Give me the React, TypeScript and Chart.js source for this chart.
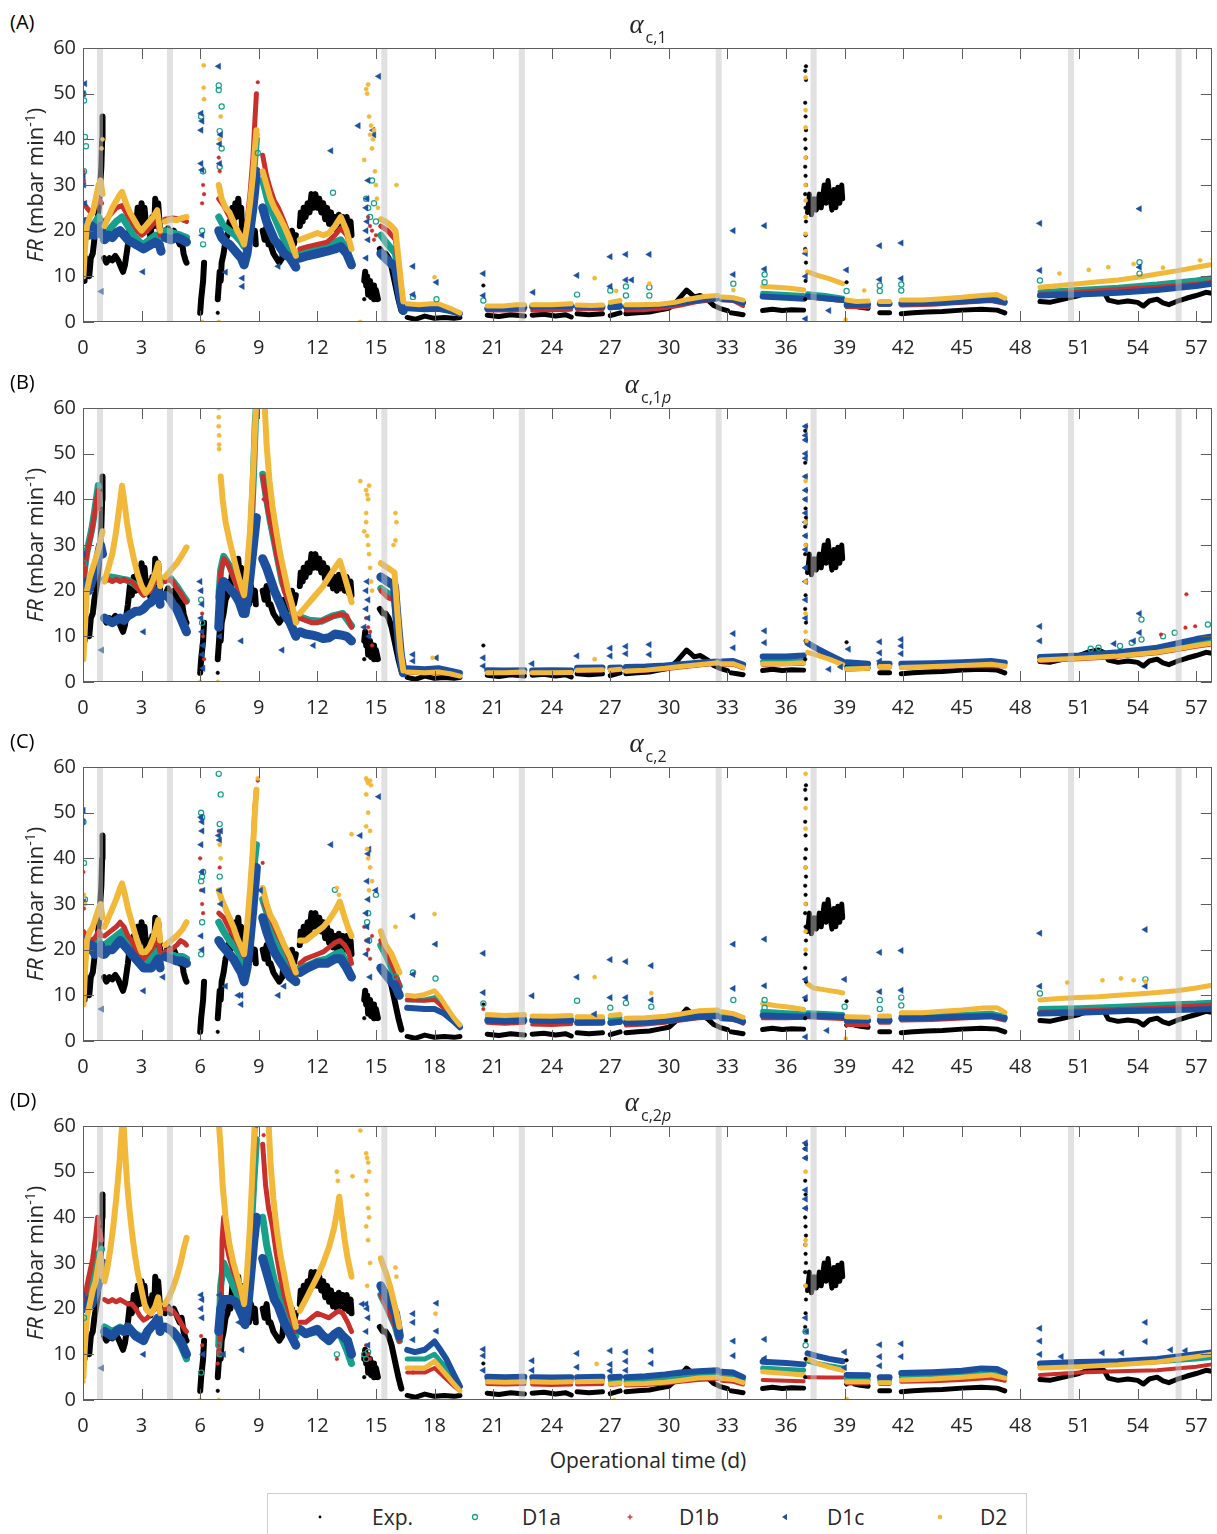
import React, { useEffect, useRef } from "react";
import { Chart, registerables } from "chart.js";
Chart.register(...registerables);

type P = [number, number] | null;

// ---------------- axis / event data ----------------
const xTickLabels = [0, 3, 6, 9, 12, 15, 18, 21, 24, 27, 30, 33, 36, 39, 42, 45, 48, 51, 54, 57];
const yTickLabels = [0, 10, 20, 30, 40, 50, 60];
const bandDays = [0.87, 4.45, 15.43, 22.47, 32.55, 37.41, 50.59, 56.1];
const seriesNames = ["Exp.", "D1a", "D1b", "D1c", "D2"];
const panelLetters = ["(A)", "(B)", "(C)", "(D)"];
const panelSubs = ["c,1", "c,1", "c,2", "c,2"];
const panelSubItalic = ["", "p", "", "p"];

// ---------------- experimental data (same in every panel) ----------------
const expLine: P[] = [
  [0.03, 12], [0.08, 9], [0.13, 14], [0.18, 10], [0.25, 12], [0.32, 10], [0.4, 14], [0.5, 15], [0.58, 18], [0.66, 20], [0.74, 22], [0.82, 26], [0.88, 30], [0.94, 34], [0.98, 40], [1.0, 45], null,
  [1.08, 14], [1.2, 13], [1.35, 14], [1.5, 13.5], [1.65, 14.5], [1.8, 13.5], [1.95, 12], [2.05, 11], [2.15, 12.5], [2.3, 17], [2.4, 21], [2.5, 19], [2.6, 23], [2.7, 20], [2.8, 25], [2.9, 21], [3.0, 26], [3.1, 22], [3.15, 25], [3.25, 20], [3.35, 22], [3.45, 18.5], [3.55, 23], [3.65, 21], [3.7, 27], [3.8, 23], [3.85, 26], [3.95, 20], null,
  [4.2, 19], [4.35, 20.5], [4.5, 19], [4.65, 20], [4.8, 18.5], [4.95, 17], [5.05, 18], [5.15, 15], [5.25, 13.5], [5.3, 13], null,
  [6.0, 2], [6.05, 5], [6.1, 7], [6.15, 9], [6.2, 13], null,
  [6.9, 5], [6.95, 8], [7.0, 11], [7.05, 9], [7.1, 13], [7.2, 15], [7.3, 18], [7.4, 19], [7.5, 22], [7.55, 20], [7.65, 25], [7.7, 22], [7.8, 26], [7.85, 23], [7.95, 27], [8.0, 24], [8.1, 25], [8.15, 20], [8.2, 22], [8.3, 18], [8.4, 20], [8.5, 17], [8.6, 21], [8.7, 18], [8.8, 20], [8.85, 17], null,
  [9.2, 20], [9.3, 18], [9.4, 21], [9.5, 17], [9.6, 17], [9.75, 15], [9.9, 14], [10.05, 13], [10.2, 14], [10.3, 18], [10.4, 15], [10.5, 19], [10.6, 16], [10.7, 20], [10.8, 17], [10.9, 19], null,
  [11.1, 21], [11.15, 24], [11.25, 22], [11.3, 25], [11.4, 23], [11.5, 26], [11.6, 24], [11.7, 28], [11.8, 25], [11.9, 28], [12.0, 25], [12.1, 27], [12.2, 24], [12.3, 26], [12.4, 22.5], [12.5, 25], [12.6, 21.5], [12.7, 24], [12.8, 20.5], [12.9, 23], [13.0, 20], [13.1, 23.5], [13.2, 20.5], [13.3, 23], [13.4, 20], [13.5, 23], [13.6, 19.5], [13.7, 22], [13.75, 19], null,
  [14.4, 9], [14.45, 11], [14.5, 8], [14.55, 10], [14.6, 6], [14.7, 9], [14.75, 5.5], [14.85, 8], [14.9, 5], [15.0, 7], [15.1, 5], null,
  [15.2, 16], [15.35, 15], [15.5, 15], [15.65, 14], [15.8, 12], [15.95, 9], [16.05, 7], [16.15, 5], [16.3, 2.5], null,
  [16.6, 1], [17.0, 0.6], [17.5, 1.3], [18.0, 0.8], [18.5, 1], [19.0, 0.8], [19.3, 1], null,
  [20.7, 1.5], [21.3, 1.2], [21.9, 1.6], [22.6, 1.3], null,
  [23.0, 1.5], [23.6, 1.7], [24.2, 1.3], [24.7, 1.6], [25.0, 1.1], null,
  [25.3, 1.8], [25.9, 1.6], [26.6, 1.8], null,
  [27.0, 1.4], [27.5, 2], null,
  [27.8, 1.8], [28.4, 2], [29.0, 2.2], [29.5, 2.6], [30.0, 3], [30.4, 4.5], [30.7, 6], [30.9, 7], [31.1, 6.3], [31.3, 5.5], [31.6, 5.8], [32.0, 4.8], [32.3, 3.6], [32.6, 3], [33.0, 2.5], null,
  [33.2, 2], [33.5, 1.8], [33.8, 1.6], null,
  [34.8, 2.5], [35.3, 2.8], [35.8, 2.5], [36.3, 2.7], [36.9, 2.6], null,
  [37.1, 24], [37.2, 28], [37.3, 23.5], [37.45, 27], [37.55, 24.5], [37.7, 28], [37.8, 25], [37.95, 30], [38.05, 26], [38.15, 31], [38.25, 27], [38.35, 24.5], [38.45, 29], [38.55, 25], [38.65, 29.5], [38.75, 26], [38.85, 30], [38.9, 27], null,
  [39.1, 3.5], [39.3, 4.3], [39.5, 3.5], [39.8, 3.2], [40.2, 3], null,
  [40.8, 2], [41.3, 2], null,
  [41.9, 1.8], [42.5, 2], [43.2, 2.2], [44.0, 2.3], [45.0, 2.6], [46.0, 2.8], [46.8, 2.6], [47.2, 2], null,
  [49.0, 4.5], [49.5, 4.3], [50.0, 4.8], [50.5, 5.3], [51.0, 5.8], [51.5, 6.6], [52.0, 7], [52.3, 6.4], [52.5, 4.8], [53.0, 4.3], [53.5, 4.6], [54.0, 4.3], [54.3, 3.5], [54.6, 4.6], [55.0, 5], [55.3, 4.2], [55.6, 3.8], [56.0, 4.5], [56.5, 5.2], [57.0, 5.8], [57.5, 6.5], [57.8, 6.3],
];
const expOut: P[] = [
  [36.98, 5], [37.0, 9], [37.02, 13], [36.98, 16], [37.0, 19], [37.02, 22], [37.0, 25], [36.98, 28], [37.02, 30], [37.0, 32], [36.98, 34], [37.02, 36], [37.0, 38], [36.98, 40], [37.02, 42], [37.0, 45], [36.98, 48], [37.02, 53], [36.98, 55], [37.02, 56],
  [20.5, 8], [39.1, 8.7], [6.9, 2], [14.4, 5], [1.0, 42], [0.98, 38],
];

// ---------------- panel A : alpha c,1 ----------------
const A_d1a: P[] = [
  [0.02, 22], [0.2, 21], [0.5, 21], [0.8, 23], [0.95, 22], null,
  [1.1, 19], [1.4, 20.5], [1.7, 22], [2.0, 23], [2.3, 21], [2.6, 19], [2.9, 17.5], [3.1, 17], [3.4, 18], [3.7, 19], [3.95, 17], null,
  [4.2, 20], [4.6, 19.5], [5.0, 19], [5.3, 18.5], null,
  [6.95, 23], [7.2, 21], [7.5, 20], [7.8, 19], [8.1, 17.5], [8.25, 16.5], [8.4, 19], [8.55, 24], [8.7, 30], [8.8, 36], [8.88, 40], null,
  [9.2, 31], [9.5, 26], [9.8, 23], [10.1, 20], [10.4, 17], [10.7, 15], [10.9, 13], null,
  [11.1, 15], [11.5, 15.5], [12.0, 16], [12.5, 16.5], [12.9, 17.5], [13.2, 18], [13.5, 16], [13.75, 13], null,
  [15.25, 19], [15.6, 17], [16.0, 15], [16.15, 10], [16.3, 5], [16.4, 3], null,
  [16.6, 3.5], [17.5, 3.3], [18.2, 3.4], [18.8, 2.6], [19.3, 2], null,
  [20.7, 3], [21.6, 3], [22.6, 3.1], null,
  [23.0, 3.1], [24.0, 3.2], [25.0, 3.3], null,
  [25.3, 3.2], [26.6, 3.2], null,
  [27.0, 3.6], [27.5, 3.8], null,
  [27.8, 3.2], [28.8, 3.3], [29.8, 3.6], [30.6, 4.1], [31.5, 4.8], [32.5, 5.3], null,
  [32.7, 5], [33.3, 5], [33.8, 4.2], null,
  [34.8, 6.3], [36.0, 6], [36.9, 5.8], null,
  [37.1, 6.2], [38.0, 5.8], [38.9, 5.2], null,
  [39.1, 4], [40.2, 3.9], null,
  [40.8, 4.2], [41.3, 4.2], null,
  [41.9, 4.3], [43.5, 4.5], [45.0, 4.8], [46.5, 5.2], [47.2, 4.6], null,
  [49.0, 6.6], [51.0, 7.1], [53.0, 7.6], [55.0, 8.3], [57.0, 9.2], [57.8, 9.7],
];
const A_d1aOut: P[] = [
  [0.02, 50], [0.05, 48.5], [0.1, 40.5], [0.15, 38.5], [0.05, 33], [6.05, 45], [6.15, 33], [6.1, 20], [6.15, 17], [6.95, 51.8], [6.95, 50.8], [7.1, 47.2], [7.0, 41.8], [7.1, 38], [7.0, 34],
  [14.5, 27], [14.6, 25], [14.7, 23], [14.8, 31], [12.8, 28.3], [14.9, 26], [15.0, 22], [8.95, 37], [16.9, 5.5], [18.1, 5], [20.5, 4.7], [25.3, 6], [27.0, 6.9], [27.8, 7.8], [27.8, 5.8],
  [29.0, 7.6], [29.0, 5.8], [33.3, 8.4], [34.9, 10.4], [34.9, 8.7], [39.1, 6.8], [40.8, 8], [40.8, 6.8], [41.9, 8.2], [41.9, 6.9], [49.0, 9.1], [54.1, 13.1], [54.1, 10.6],
];
const A_d1b: P[] = [
  [0.02, 26], [0.2, 25], [0.4, 24], [0.6, 25], [0.8, 27], [0.95, 26], null,
  [1.1, 22], [1.4, 23.5], [1.7, 25], [2.0, 25.5], [2.2, 24], [2.5, 22], [2.8, 20], [3.0, 19], [3.3, 20], [3.6, 21.5], [3.8, 22], [3.95, 19], null,
  [4.2, 22.5], [4.6, 22.8], [5.0, 22.5], [5.3, 22], null,
  [6.95, 27], [7.2, 25.5], [7.5, 23], [7.8, 21], [8.1, 19], [8.25, 17.5], [8.4, 22], [8.55, 28], [8.7, 36], [8.8, 44], [8.88, 50], null,
  [9.2, 36.5], [9.4, 32], [9.6, 29], [9.8, 26.5], [10.0, 25], [10.3, 22], [10.6, 18.5], [10.9, 14.5], null,
  [11.1, 16], [11.5, 16.5], [12.0, 17], [12.5, 17.5], [12.9, 19], [13.2, 20.5], [13.5, 19], [13.75, 16], null,
  [15.25, 21], [15.6, 20], [16.0, 18], [16.15, 12], [16.3, 6], [16.4, 3.5], null,
  [16.6, 3], [17.5, 2.8], [18.2, 3], [18.8, 2.3], [19.3, 1.8], null,
  [20.7, 2.5], [21.6, 2.5], [22.6, 2.6], null,
  [23.0, 2.5], [24.0, 2.6], [25.0, 2.7], null,
  [25.3, 2.8], [26.6, 2.8], null,
  [27.0, 3], [27.5, 3.2], null,
  [27.8, 2.5], [28.8, 2.6], [29.8, 3], [30.6, 3.6], [31.5, 4.4], [32.5, 5], null,
  [32.7, 4.8], [33.3, 4.6], [33.8, 3.5], null,
  [34.8, 5.5], [36.0, 5.3], [36.9, 5.2], null,
  [37.1, 5.4], [38.0, 5], [38.9, 4.6], null,
  [39.1, 3.3], [40.2, 3.2], null,
  [40.8, 3.8], [41.3, 3.8], null,
  [41.9, 3.6], [43.5, 3.8], [45.0, 4.2], [46.5, 4.6], [47.2, 4], null,
  [49.0, 6.2], [51.0, 6.6], [53.0, 7.2], [55.0, 7.7], [57.0, 8.4], [57.8, 8.8],
];
const A_d1bOut: P[] = [
  [6.15, 30], [6.2, 28], [6.1, 26], [6.95, 36], [7.0, 33], [8.95, 52.5], [14.6, 23], [14.7, 21], [14.8, 20], [14.9, 18], [15.0, 19], [0.02, 33], [0.05, 31],
];
const A_d1c: P[] = [
  [0.02, 20], [0.15, 22], [0.3, 19], [0.45, 21], [0.6, 19], [0.75, 20], [0.9, 21], [1.0, 19], null,
  [1.1, 18], [1.3, 19], [1.5, 18.5], [1.7, 19.5], [1.9, 20], [2.1, 19], [2.3, 18], [2.5, 17.5], [2.7, 17], [2.9, 16.5], [3.1, 16], [3.3, 16.5], [3.5, 17], [3.7, 17.5], [3.9, 17], [4.0, 15.5], null,
  [4.2, 18.5], [4.5, 18], [4.8, 18.5], [5.1, 18], [5.3, 17.5], null,
  [6.95, 20], [7.1, 18.5], [7.3, 17.5], [7.5, 17], [7.7, 16], [7.9, 15], [8.1, 14], [8.25, 12.5], [8.4, 15], [8.55, 20], [8.7, 25], [8.8, 29], [8.88, 33], null,
  [9.2, 25], [9.4, 22], [9.6, 20], [9.8, 18], [10.0, 17], [10.3, 15], [10.6, 14], [10.9, 12], null,
  [11.1, 14], [11.5, 14.5], [12.0, 15], [12.5, 15.5], [12.9, 16], [13.2, 16.5], [13.5, 15], [13.75, 12.5], null,
  [15.25, 15], [15.6, 13.5], [16.0, 12], [16.15, 8], [16.3, 4], [16.4, 2.5], null,
  [16.6, 3], [17.5, 2.8], [18.2, 2.9], [18.8, 2.4], [19.3, 1.8], null,
  [20.7, 2.9], [21.6, 3], [22.6, 3.2], null,
  [23.0, 3.4], [24.0, 3.5], [25.0, 3.5], null,
  [25.3, 3.4], [26.6, 3.3], null,
  [27.0, 3.2], [27.5, 3.4], null,
  [27.8, 3.3], [28.8, 3.5], [29.8, 3.8], [30.6, 4.2], [31.5, 4.8], [32.5, 5.2], null,
  [32.7, 5], [33.3, 4.9], [33.8, 4.2], null,
  [34.8, 5.6], [36.0, 5.3], [36.9, 5.1], null,
  [37.1, 5.6], [38.0, 5.2], [38.9, 4.8], null,
  [39.1, 3.8], [40.2, 3.8], null,
  [40.8, 4], [41.3, 4], null,
  [41.9, 4], [43.5, 4.2], [45.0, 4.5], [46.5, 4.9], [47.2, 4.3], null,
  [49.0, 5.8], [51.0, 6], [53.0, 6.4], [55.0, 7], [57.0, 7.9], [57.8, 8.4],
];
const A_d1cOut: P[] = [
  [0.1, 52.2], [0.02, 50], [0.02, 32], [0.05, 30], [0.1, 26], [0.94, 6.7], [3.07, 11], [6.05, 45.7], [6.1, 44], [6.05, 42], [6.05, 34.7], [6.1, 33.3], [6.1, 19], [6.95, 56], [7.05, 41], [7.0, 39], [7.0, 34.7],
  [8.16, 9.6], [8.16, 7.8], [7.3, 10.9], [10.0, 12.2], [12.7, 37.5], [14.1, 43], [14.85, 42], [14.9, 41], [14.6, 31], [14.55, 27], [14.5, 25], [14.55, 22], [14.5, 20], [14.6, 18], [14.5, 14], [15.15, 53.8],
  [16.9, 12.2], [16.9, 6], [18.1, 8.7], [20.5, 10.6], [20.5, 5.8], [23.05, 6.5], [25.3, 10.2], [27.0, 14.3], [27.0, 7.8], [27.8, 14.8], [27.8, 9.2], [28.1, 9.2], [29.0, 14.8], [33.3, 20], [33.3, 10.4],
  [34.9, 21.1], [34.9, 11.6], [37.0, 15], [37.0, 10], [37.0, 0.7], [39.1, 11.4], [38.2, 2.5], [40.8, 16.7], [40.8, 9.3], [41.9, 17.3], [41.9, 9.5], [49.0, 21.6], [49.0, 11.3], [54.1, 24.8], [54.1, 12],
];
const A_d2: P[] = [
  [0.02, 10], [0.1, 16], [0.2, 21], [0.35, 23], [0.5, 24], [0.65, 27], [0.8, 30], [0.9, 31], [1.0, 28], null,
  [1.1, 21], [1.3, 23], [1.5, 25], [1.7, 26.5], [1.9, 28], [2.0, 28.5], [2.2, 26], [2.4, 24], [2.6, 22.5], [2.8, 21], [3.0, 20], [3.2, 21], [3.4, 22], [3.6, 23], [3.8, 24.5], [3.95, 20], null,
  [4.2, 22], [4.5, 22.5], [4.8, 22.3], [5.1, 22.8], [5.3, 23], null,
  [6.95, 30], [7.1, 27], [7.3, 25], [7.5, 24], [7.7, 22], [7.9, 20], [8.1, 18.5], [8.25, 17], [8.4, 21], [8.55, 26], [8.7, 32], [8.8, 38], [8.88, 42], null,
  [9.2, 33], [9.4, 30], [9.6, 27], [9.8, 25], [10.0, 23.5], [10.3, 21], [10.6, 18], [10.9, 14.5], null,
  [11.1, 18], [11.4, 18.5], [11.7, 19], [12.0, 19.5], [12.3, 19], [12.6, 19.5], [12.9, 21], [13.2, 23], [13.5, 20], [13.75, 16], null,
  [15.25, 22.5], [15.5, 22], [15.8, 21], [16.0, 20], [16.15, 14], [16.3, 8], [16.4, 4.5], null,
  [16.6, 4], [17.2, 3.8], [17.8, 4], [18.2, 4], [18.8, 3], [19.3, 2], null,
  [20.7, 3.5], [21.5, 3.5], [22.2, 3.8], [22.6, 3.8], null,
  [23.0, 3.8], [24.0, 3.8], [25.0, 4], null,
  [25.3, 3.7], [26.0, 3.6], [26.6, 3.7], null,
  [27.0, 4.3], [27.5, 4.7], null,
  [27.8, 3.8], [28.5, 3.8], [29.5, 3.9], [30.3, 4.3], [31.0, 5], [31.8, 5.6], [32.5, 5.8], null,
  [32.7, 5.5], [33.3, 5.3], [33.8, 4.8], null,
  [34.8, 7.8], [35.5, 7.6], [36.2, 7.4], [36.9, 7], null,
  [37.1, 11], [37.6, 10.2], [38.2, 9.5], [38.9, 8.4], null,
  [39.1, 4.8], [39.6, 4.5], [40.2, 4.6], null,
  [40.8, 4.5], [41.3, 4.5], null,
  [41.9, 4.8], [43.0, 4.8], [44.0, 5.1], [45.0, 5.4], [46.0, 5.8], [46.8, 6], [47.2, 5.2], null,
  [49.0, 7.6], [50.0, 8], [51.0, 8.4], [52.0, 8.8], [53.0, 9.2], [54.0, 9.8], [55.0, 10.5], [56.0, 11.2], [57.0, 12], [57.8, 12.6],
];
const A_d2Out: P[] = [
  [6.18, 56.2], [6.18, 51.3], [6.2, 48.8], [6.95, 0], [6.1, 0], [14.2, 0], [14.5, 51], [14.55, 50], [14.6, 52], [14.65, 45], [14.7, 41], [14.75, 43], [14.8, 38], [14.85, 40], [14.9, 42], [14.95, 33], [15.0, 30],
  [15.05, 27], [15.1, 25], [14.4, 35.5], [7.0, 40], [7.05, 45], [8.95, 41], [16.05, 30], [0.95, 38], [1.0, 40], [37.0, 53.5], [37.0, 46.4], [37.0, 42.6], [37.0, 36], [37.0, 30], [37.0, 26.6], [37.0, 23],
  [37.0, 19.3], [37.0, 15.6], [18.0, 9.8], [26.2, 9.6], [27.3, 6.8], [29.0, 8.4], [33.3, 7], [39.05, 0.5], [40.0, 6.9], [50.0, 10.6], [51.5, 11.4], [52.5, 12], [53.8, 12.7], [55.3, 11.9], [57.2, 13.5], [57.85, 13.8],
];

// ---------------- panel B : alpha c,1p ----------------
const B_d1a: P[] = [
  [0.02, 22], [0.1, 25.5], [0.2, 28.5], [0.3, 30.5], [0.45, 33.5], [0.6, 37.5], [0.7, 40.5], [0.78, 43], [0.85, 38.5], null,
  [1.1, 22.5], [1.4, 23], [1.7, 22.8], [2.0, 22.5], [2.3, 22.3], [2.6, 21.5], [2.9, 20.3], [3.1, 19.3], [3.4, 20], [3.7, 22.3], [3.85, 24], [3.95, 21.5], null,
  [4.2, 22.3], [4.5, 22.6], [4.8, 21], [5.1, 19], [5.3, 17.8], null,
  [6.95, 18.5], [7.05, 24.5], [7.2, 27.5], [7.5, 25.5], [7.8, 22.5], [8.1, 19], [8.3, 17.3], [8.45, 23.5], [8.6, 32.5], [8.72, 44.5], [8.82, 56.5], [8.87, 60], null,
  [9.2, 45.5], [9.4, 40], [9.6, 35], [9.9, 28.5], [10.2, 22], [10.5, 18.3], [10.9, 13.3], null,
  [11.1, 14.3], [11.6, 13.5], [12.2, 13.3], [12.8, 14.5], [13.3, 15], [13.75, 12.3], null,
  [15.25, 20.5], [15.95, 18.3], [16.1, 11.5], [16.4, 2.2], null,
  [16.6, 2.5], [18.2, 2.4], [19.3, 1.5], null,
  [20.7, 2.2], [22.6, 2.3], null,
  [23.0, 2.2], [25.0, 2.3], null,
  [25.3, 2.7], [26.6, 2.8], null,
  [27.0, 2.7], [27.5, 2.9], null,
  [27.8, 2.6], [29.8, 3.1], [31.5, 3.8], [32.5, 4.2], null,
  [32.7, 4.2], [33.3, 4.3], [33.8, 3.4], null,
  [34.8, 4.5], [36.9, 4.6], null,
  [37.1, 8.6], [37.6, 7.3], [38.2, 5.8], [38.9, 4.1], null,
  [39.1, 3], [40.2, 3.2], null,
  [40.8, 3.5], [41.3, 3.5], null,
  [41.9, 3.5], [45.0, 3.9], [47.2, 3.7], null,
  [49.0, 5], [51.0, 5.4], [53.0, 6], [55.0, 6.9], [57.0, 8.6], [57.8, 9.2],
];
const B_d1aOut: P[] = [
  [54.2, 13.7], [54.2, 9.3], [55.3, 10], [55.9, 10.8], [57.6, 12.6], [53.1, 7.9], [53.7, 8.6], [52.0, 7.5], [51.6, 7.3], [0.05, 26], [6.05, 18], [6.1, 13],
];
const B_d1b: P[] = [
  [0.02, 22], [0.1, 25], [0.2, 28], [0.3, 30], [0.45, 33], [0.6, 37], [0.7, 40], [0.78, 42], [0.85, 38], null,
  [1.1, 22], [1.3, 22.5], [1.5, 22], [1.7, 22.5], [1.9, 22], [2.1, 22.5], [2.3, 22], [2.5, 22], [2.7, 21], [2.9, 20], [3.1, 19], [3.3, 19.5], [3.5, 20.5], [3.7, 22], [3.85, 23.5], [3.95, 21], null,
  [4.2, 22], [4.4, 22.5], [4.6, 22], [4.8, 20.5], [5.0, 19.5], [5.2, 18], [5.3, 17.5], null,
  [6.95, 18], [7.05, 24], [7.2, 27], [7.4, 26], [7.6, 24], [7.8, 22], [8.0, 20], [8.2, 17.5], [8.3, 17], [8.45, 23], [8.6, 32], [8.72, 44], [8.82, 56], [8.87, 60], null,
  [9.2, 45], [9.35, 41], [9.5, 37], [9.7, 33], [9.9, 28], [10.1, 24], [10.3, 20], [10.5, 18], [10.7, 15.5], [10.9, 13], null,
  [11.1, 14], [11.4, 13.5], [11.7, 13], [12.0, 13], [12.3, 13.5], [12.6, 14], [12.9, 14.5], [13.2, 14.8], [13.5, 14.5], [13.75, 12], null,
  [15.25, 20], [15.6, 18.5], [15.95, 18], [16.1, 11], [16.25, 5], [16.4, 2], null,
  [16.6, 2], [17.5, 1.9], [18.2, 2], [18.8, 1.7], [19.3, 1.2], null,
  [20.7, 1.9], [22.6, 2], null,
  [23.0, 1.9], [25.0, 2], null,
  [25.3, 2.4], [26.6, 2.5], null,
  [27.0, 2.4], [27.5, 2.6], null,
  [27.8, 2.2], [29.8, 2.8], [31.5, 3.6], [32.5, 4], null,
  [32.7, 3.8], [33.3, 3.8], [33.8, 3], null,
  [34.8, 3.8], [36.9, 4], null,
  [37.1, 8.3], [37.6, 7], [38.2, 5.5], [38.9, 3.9], null,
  [39.1, 2.7], [40.2, 2.9], null,
  [40.8, 3.2], [41.3, 3.2], null,
  [41.9, 3.1], [45.0, 3.5], [47.2, 3.4], null,
  [49.0, 4.6], [51.0, 5], [53.0, 5.5], [55.0, 6.3], [57.0, 7.7], [57.8, 8.2],
];
const B_d1bOut: P[] = [
  [6.05, 20], [6.1, 15], [6.15, 10], [6.2, 5], [14.5, 14], [14.6, 12], [14.7, 11], [14.8, 8], [14.65, 10], [56.5, 19.2], [56.45, 11.9], [56.95, 12.2], [55.2, 10.4], [9.25, 40],
];
const B_d1c: P[] = [
  [0.02, 22], [0.15, 21], [0.3, 20], [0.45, 22], [0.6, 24], [0.75, 27], [0.9, 30], [1.0, 28], null,
  [1.1, 14], [1.3, 13.5], [1.5, 13], [1.7, 13.5], [1.9, 14], [2.1, 13.5], [2.3, 14.5], [2.5, 15], [2.7, 15.5], [2.9, 15.5], [3.1, 16], [3.3, 17], [3.5, 17.5], [3.7, 19], [3.85, 20], [3.95, 17], null,
  [4.2, 19], [4.4, 18.5], [4.6, 17], [4.8, 16], [5.0, 14], [5.2, 12], [5.3, 11], null,
  [6.95, 12], [7.05, 20], [7.2, 22], [7.4, 21], [7.6, 20], [7.8, 19], [8.0, 17.5], [8.2, 15], [8.3, 15], [8.45, 19], [8.6, 25], [8.75, 31], [8.88, 36], null,
  [9.2, 27], [9.4, 25], [9.6, 22.5], [9.8, 20], [10.0, 18], [10.3, 15], [10.6, 13], [10.9, 10], null,
  [11.1, 11], [11.4, 10.5], [11.7, 10.3], [12.0, 10], [12.3, 9.5], [12.6, 9.7], [12.9, 10.5], [13.2, 10.3], [13.5, 10], [13.75, 9], null,
  [15.25, 23], [15.6, 22], [15.95, 21], [16.1, 13], [16.25, 6], [16.4, 2], null,
  [16.6, 3], [17.5, 2.8], [18.2, 3], [18.8, 2.5], [19.3, 2], null,
  [20.7, 2.6], [21.6, 2.5], [22.6, 2.6], null,
  [23.0, 2.5], [24.0, 2.6], [25.0, 2.5], null,
  [25.3, 3.1], [26.6, 3.2], null,
  [27.0, 3.1], [27.5, 3.2], null,
  [27.8, 3.3], [28.8, 3.4], [29.8, 3.6], [30.6, 3.9], [31.5, 4.2], [32.5, 4.5], null,
  [32.7, 4.5], [33.3, 4.6], [33.8, 3.8], null,
  [34.8, 5.6], [36.0, 5.6], [36.9, 5.8], null,
  [37.1, 8.5], [37.6, 7.3], [38.2, 6], [38.9, 4.5], null,
  [39.1, 4.3], [40.2, 4], null,
  [40.8, 4], [41.3, 4], null,
  [41.9, 4], [43.5, 4.1], [45.0, 4.3], [46.5, 4.6], [47.2, 4.2], null,
  [49.0, 5.5], [51.0, 5.8], [53.0, 6.5], [55.0, 7.5], [57.0, 9.4], [57.8, 10],
];
const B_d1cOut: P[] = [
  [6.0, 22], [6.05, 20], [6.1, 17], [6.05, 14], [6.1, 11], [6.15, 8], [6.1, 6], [6.15, 3], [0.02, 28], [0.95, 7], [3.1, 11], [8.1, 9], [7.0, 10], [14.4, 12], [14.5, 20], [14.55, 22], [14.6, 18],
  [14.5, 16], [14.6, 14], [14.65, 10], [16.9, 6], [16.9, 4.6], [18.1, 5.3], [20.5, 5.3], [20.5, 3.5], [23.0, 4], [25.3, 5.7], [27.0, 7.4], [27.0, 5.7], [27.8, 7.8], [27.8, 6.2], [29.0, 8.2], [29.0, 6],
  [33.3, 10.6], [33.3, 7.5], [34.9, 11.2], [34.9, 8.6], [37.0, 56], [37.0, 54], [37.0, 53], [37.0, 50], [37.0, 49], [37.0, 45], [37.0, 42], [37.0, 40], [37.0, 37], [37.0, 35], [37.0, 32], [37.0, 29],
  [37.0, 25], [37.0, 22], [37.0, 18], [37.0, 14], [38.2, 2.8], [38.8, 3.3], [39.2, 7.2], [40.8, 8.8], [40.8, 6.4], [40.8, 4.6], [41.9, 9.3], [41.9, 7.9], [41.9, 6.2], [49.0, 12.2], [49.0, 9],
  [54.1, 15], [54.1, 10.8], [53.8, 9], [52.8, 8.4], [11.8, 8], [10.2, 7],
];
const B_d2: P[] = [
  [0.02, 5], [0.1, 12], [0.2, 20], [0.35, 23], [0.5, 25], [0.65, 27], [0.8, 29], [0.9, 31], [1.0, 33], null,
  [1.1, 22], [1.3, 25], [1.5, 28], [1.7, 33], [1.85, 38], [2.0, 43], [2.1, 40], [2.25, 35], [2.4, 31], [2.6, 27], [2.8, 23.5], [3.0, 21], [3.2, 19.5], [3.4, 20.5], [3.6, 22.5], [3.75, 24.5], [3.85, 26], [3.95, 21], null,
  [4.2, 23], [4.5, 24.5], [4.8, 26], [5.1, 28], [5.3, 29.5], null,
  [7.05, 45], [7.15, 40], [7.3, 35], [7.5, 31], [7.7, 27.5], [7.9, 24], [8.1, 21], [8.25, 19], [8.4, 25], [8.55, 33], [8.7, 45], [8.8, 55], [8.87, 61], null,
  [9.3, 61], [9.4, 52], [9.55, 44], [9.7, 38.5], [9.9, 33], [10.1, 28], [10.3, 24], [10.5, 20], [10.7, 17], [10.9, 13], null,
  [11.1, 15], [11.4, 16.5], [11.7, 18], [12.0, 19.5], [12.3, 21], [12.6, 23], [12.9, 25], [13.15, 26.5], [13.4, 23], [13.6, 20], [13.75, 17.5], null,
  [15.25, 26], [15.6, 25], [15.95, 24], [16.1, 15], [16.25, 7], [16.4, 2.5], null,
  [16.6, 2.2], [17.5, 2], [18.2, 2.2], [18.8, 1.8], [19.3, 1.3], null,
  [20.7, 2], [21.6, 2], [22.6, 2.2], null,
  [23.0, 2], [24.0, 2], [25.0, 2.1], null,
  [25.3, 2.6], [26.6, 2.7], null,
  [27.0, 2.6], [27.5, 2.8], null,
  [27.8, 2.4], [28.8, 2.6], [29.8, 3], [30.6, 3.4], [31.5, 3.8], [32.5, 4.2], null,
  [32.7, 4], [33.3, 4], [33.8, 3.2], null,
  [34.8, 4], [36.0, 4], [36.9, 4.2], null,
  [37.1, 6.5], [37.5, 6], [38.2, 5], [38.9, 3.8], null,
  [39.1, 2.8], [40.2, 3], null,
  [40.8, 3.4], [41.3, 3.4], null,
  [41.9, 3.2], [43.5, 3.4], [45.0, 3.6], [46.5, 3.9], [47.2, 3.5], null,
  [49.0, 4.8], [51.0, 5.2], [53.0, 5.7], [55.0, 6.5], [57.0, 8], [57.8, 8.5],
];
const B_d2Out: P[] = [
  [6.95, 60], [6.95, 58], [6.95, 56], [6.97, 54], [6.97, 52], [6.97, 51], [6.0, 0], [6.9, 0], [0.02, 5], [14.2, 44], [14.5, 42], [14.55, 41], [14.6, 40], [14.65, 43], [14.5, 35], [14.55, 32],
  [14.6, 30], [14.65, 28], [14.7, 25], [14.75, 22], [14.8, 20], [14.5, 37], [14.4, 33], [16.0, 37], [16.05, 35], [16.0, 31], [15.9, 30], [17.9, 5.3], [26.2, 5], [37.0, 44], [37.0, 35], [37.0, 30],
  [37.0, 22], [37.0, 15], [37.0, 11], [37.05, 9],
];

// ---------------- panel C : alpha c,2 ----------------
const C_d1a: P[] = [
  [0.02, 22], [0.2, 21.5], [0.5, 21], [0.8, 22], [0.95, 21], null,
  [1.1, 21], [1.4, 22], [1.7, 23], [2.0, 24], [2.3, 22], [2.6, 20], [2.9, 17.5], [3.1, 17], [3.4, 18], [3.7, 19.5], [3.85, 20], [3.95, 17.5], null,
  [4.2, 19], [4.5, 19], [4.8, 18.5], [5.1, 18.5], [5.3, 18], null,
  [6.95, 26], [7.2, 24], [7.5, 22], [7.8, 20.5], [8.1, 18.5], [8.25, 17], [8.4, 21], [8.55, 27], [8.7, 34], [8.8, 40], [8.88, 43], null,
  [9.2, 31], [9.5, 27], [9.8, 23], [10.1, 20], [10.4, 17], [10.7, 15], [10.9, 13], null,
  [11.1, 16], [11.5, 16.5], [12.0, 17.5], [12.5, 18], [12.9, 19], [13.2, 19.5], [13.5, 17], [13.75, 14], null,
  [15.25, 21], [15.6, 18], [16.0, 14], [16.2, 12], null,
  [16.6, 9], [17.5, 9], [18.0, 9.5], [18.5, 7.5], [19.0, 4.8], [19.3, 3.5], null,
  [20.7, 5], [21.6, 4.8], [22.6, 5], null,
  [23.0, 4.8], [24.0, 4.7], [25.0, 4.9], null,
  [25.3, 4.8], [26.6, 4.8], null,
  [27.0, 4.9], [27.5, 5], null,
  [27.8, 4.5], [28.8, 4.6], [29.8, 4.9], [30.6, 5.3], [31.5, 5.7], [32.5, 5.8], null,
  [32.7, 5.6], [33.3, 5.4], [33.8, 4.5], null,
  [34.8, 6.5], [36.0, 6.2], [36.9, 6], null,
  [37.1, 6.2], [38.0, 6], [38.9, 5.8], null,
  [39.1, 4.3], [40.2, 4.3], null,
  [40.8, 4.8], [41.3, 4.8], null,
  [41.9, 5.5], [43.5, 5.6], [45.0, 5.8], [46.5, 6.1], [47.2, 5.4], null,
  [49.0, 7.1], [51.0, 7.3], [53.0, 7.6], [55.0, 8], [57.0, 8.3], [57.8, 8.5],
];
const C_d1aOut: P[] = [
  [0.02, 48], [0.05, 39], [0.1, 31], [6.05, 50], [6.1, 49], [6.15, 37], [6.1, 36], [6.05, 35], [6.1, 26], [6.05, 19], [6.95, 58.5], [7.05, 54], [7.0, 47.5], [7.0, 36], [12.9, 33.1], [14.55, 26],
  [14.65, 22], [14.6, 28], [15.0, 32], [16.0, 14], [16.9, 15], [18.05, 13.7], [20.5, 8.2], [25.3, 8.8], [27.0, 7.3], [27.8, 8.3], [29.1, 7.5], [33.3, 9], [34.9, 9], [34.9, 7.3], [39.0, 7.5],
  [40.8, 9], [40.8, 7], [41.9, 9.5], [41.9, 7.8], [49.0, 10.4], [54.4, 13.5],
];
const C_d1b: P[] = [
  [0.02, 24], [0.2, 23], [0.4, 22], [0.6, 22.5], [0.8, 24], [0.95, 23], null,
  [1.1, 23], [1.4, 24], [1.7, 25], [1.9, 26], [2.1, 25], [2.3, 23], [2.5, 22], [2.7, 20], [2.9, 18.5], [3.1, 18], [3.3, 19], [3.5, 20], [3.7, 21.5], [3.85, 22], [3.95, 19.5], null,
  [4.2, 19.5], [4.5, 20], [4.8, 21], [5.0, 22], [5.2, 21.5], [5.3, 21], null,
  [6.95, 28], [7.2, 27], [7.5, 24.5], [7.8, 22.5], [8.1, 20], [8.25, 18.5], [8.4, 24], [8.55, 32], [8.7, 42], [8.8, 51], [8.88, 55], null,
  [9.3, 30], [9.5, 28], [9.8, 25], [10.0, 23], [10.3, 20.5], [10.6, 17.5], [10.9, 14], null,
  [11.1, 17], [11.4, 18], [11.7, 18.5], [12.0, 19], [12.3, 19.5], [12.6, 20.5], [12.9, 21.5], [13.15, 22], [13.4, 21], [13.6, 19.5], [13.75, 17], null,
  [15.25, 22], [15.6, 19], [16.0, 15], [16.2, 12], null,
  [16.6, 9], [17.5, 8.8], [18.0, 9], [18.5, 7], [19.0, 4.5], [19.3, 3], null,
  [20.7, 4], [21.6, 3.8], [22.6, 4], null,
  [23.0, 3.6], [24.0, 3.5], [25.0, 3.7], null,
  [25.3, 3.8], [26.6, 3.8], null,
  [27.0, 3.8], [27.5, 4], null,
  [27.8, 3.4], [28.8, 3.6], [29.8, 4], [30.6, 4.5], [31.5, 5], [32.5, 5.2], null,
  [32.7, 5], [33.3, 4.9], [33.8, 3.8], null,
  [34.8, 5], [36.0, 5], [36.9, 5.1], null,
  [37.1, 5.2], [38.0, 5], [38.9, 4.8], null,
  [39.1, 3.5], [40.2, 3.5], null,
  [40.8, 4], [41.3, 4], null,
  [41.9, 4.5], [43.5, 4.6], [45.0, 4.9], [46.5, 5.2], [47.2, 4.5], null,
  [49.0, 6.4], [51.0, 6.7], [53.0, 7], [55.0, 7.3], [57.0, 7.8], [57.8, 8],
];
const C_d1bOut: P[] = [
  [0.02, 37], [0.05, 29], [6.0, 40], [6.05, 33], [6.1, 30], [6.15, 28], [6.95, 46], [7.0, 38], [8.95, 57], [9.2, 39], [14.4, 25], [14.5, 22], [14.6, 20], [14.7, 18], [14.8, 23], [20.5, 7],
];
const C_d1c: P[] = [
  [0.02, 20], [0.15, 22], [0.3, 20], [0.45, 21], [0.6, 19], [0.75, 20], [0.9, 21], [1.0, 19], null,
  [1.1, 19], [1.3, 20], [1.5, 20], [1.7, 21], [1.9, 22], [2.1, 21], [2.3, 20], [2.5, 19], [2.7, 18], [2.9, 17], [3.1, 16], [3.3, 16], [3.5, 16], [3.7, 17], [3.85, 18], [3.95, 16], null,
  [4.2, 18.5], [4.5, 18], [4.8, 17.5], [5.1, 17.5], [5.3, 17], null,
  [6.95, 22], [7.1, 21], [7.3, 20], [7.5, 19], [7.7, 18], [7.9, 16.5], [8.1, 15], [8.25, 13], [8.4, 16], [8.55, 22], [8.7, 29], [8.8, 34], [8.88, 38], null,
  [9.2, 27], [9.4, 24], [9.6, 21.5], [9.8, 19.5], [10.0, 18], [10.3, 16], [10.6, 14], [10.9, 13], null,
  [11.1, 15], [11.5, 16], [12.0, 17], [12.5, 17], [12.9, 18], [13.2, 18], [13.5, 16], [13.75, 14], null,
  [15.25, 16], [15.6, 14], [16.0, 12], [16.2, 10], null,
  [16.6, 7.3], [17.5, 7], [18.0, 7], [18.5, 6], [19.0, 4.2], [19.3, 3], null,
  [20.7, 4.5], [21.6, 4.3], [22.6, 4.5], null,
  [23.0, 4.5], [24.0, 4.4], [25.0, 4.5], null,
  [25.3, 4], [26.6, 4.1], null,
  [27.0, 4], [27.5, 4.2], null,
  [27.8, 4], [28.8, 4.1], [29.8, 4.4], [30.6, 4.8], [31.5, 5.3], [32.5, 5.5], null,
  [32.7, 5], [33.3, 4.8], [33.8, 4.2], null,
  [34.8, 5.6], [36.0, 5.4], [36.9, 5.3], null,
  [37.1, 5.6], [38.0, 5.5], [38.9, 5.3], null,
  [39.1, 4.5], [40.2, 4.5], null,
  [40.8, 4.5], [41.3, 4.5], null,
  [41.9, 5], [43.5, 5.1], [45.0, 5.3], [46.5, 5.5], [47.2, 5], null,
  [49.0, 6], [51.0, 6.2], [53.0, 6.5], [55.0, 6.7], [57.0, 6.9], [57.8, 7],
];
const C_d1cOut: P[] = [
  [0.02, 50.5], [0.0, 48], [0.05, 30.5], [0.95, 7], [3.1, 11], [6.05, 49], [6.1, 48], [6.1, 46], [6.05, 43], [6.1, 37], [6.15, 33], [6.05, 23], [6.1, 20], [6.95, 45], [7.05, 46], [7.0, 44],
  [7.0, 33], [7.05, 30], [7.3, 12], [7.95, 10], [8.1, 10], [8.1, 8], [9.1, 33], [10.0, 10], [10.3, 12], [12.7, 43], [14.2, 45], [14.6, 41], [14.65, 42], [14.55, 35], [14.6, 31], [14.5, 28],
  [14.55, 25], [14.6, 22], [14.5, 19], [15.15, 53.5], [15.0, 33], [14.7, 14], [4.1, 14], [16.9, 27.3], [16.9, 14.6], [18.05, 21.2], [20.5, 19.2], [20.5, 10.6], [23.0, 9.9], [25.3, 14], [26.2, 5.9],
  [27.0, 17.8], [27.0, 9.5], [27.8, 17.4], [27.8, 9.5], [29.1, 16.5], [29.1, 9], [33.3, 21.2], [33.3, 11.5], [34.9, 22.3], [34.9, 12.1], [37.0, 13.5], [37.0, 9.5], [37.0, 0.9], [39.0, 13.5],
  [38.1, 2.3], [40.8, 19.4], [40.8, 10.8], [41.9, 19.8], [41.9, 11.1], [49.0, 23.6], [49.0, 12], [54.4, 24.4], [54.4, 12],
];
const C_d2: P[] = [
  [0.02, 8], [0.1, 15], [0.2, 22], [0.35, 24], [0.5, 25], [0.65, 27], [0.8, 29], [0.9, 30], [1.0, 27], null,
  [1.1, 25], [1.3, 27], [1.5, 29], [1.7, 31], [1.9, 33.5], [2.0, 34.5], [2.15, 32], [2.3, 29], [2.5, 26], [2.7, 23], [2.9, 20.5], [3.0, 19.5], [3.2, 19.5], [3.4, 20.5], [3.6, 22.5], [3.75, 25], [3.85, 26.5], [3.95, 22], null,
  [4.2, 21], [4.5, 22], [4.8, 23], [5.1, 24.5], [5.3, 26], null,
  [6.95, 33], [7.1, 31], [7.3, 29], [7.5, 27], [7.7, 25], [7.9, 22.5], [8.1, 20.5], [8.25, 19], [8.4, 25], [8.55, 33], [8.7, 42], [8.8, 50], [8.88, 55], null,
  [9.2, 33.5], [9.4, 30], [9.6, 27.5], [9.8, 26], [10.0, 24], [10.3, 21], [10.6, 18.5], [10.9, 15], null,
  [11.1, 22], [11.4, 22], [11.7, 23], [12.0, 24], [12.3, 25], [12.6, 26.5], [12.9, 28.5], [13.15, 30.5], [13.4, 27], [13.6, 24.5], [13.75, 23], null,
  [15.25, 24], [15.5, 21], [15.8, 19], [16.0, 17], [16.2, 15], null,
  [16.6, 10], [17.0, 9.8], [17.5, 10.2], [18.0, 11], [18.3, 9.5], [18.6, 7.5], [19.0, 5], [19.3, 3.5], null,
  [20.7, 5.8], [21.6, 5.6], [22.6, 5.8], null,
  [23.0, 5.5], [24.0, 5.4], [25.0, 5.6], null,
  [25.3, 5.3], [26.6, 5.3], null,
  [27.0, 5.6], [27.5, 5.8], null,
  [27.8, 5], [28.8, 5.1], [29.8, 5.4], [30.6, 5.9], [31.5, 6.6], [32.5, 6.8], null,
  [32.7, 6.4], [33.3, 6], [33.8, 5.2], null,
  [34.8, 8.2], [35.5, 7.7], [36.2, 7.4], [36.9, 6.9], null,
  [37.1, 12.5], [37.4, 11.6], [38.0, 11.2], [38.6, 10.8], [38.9, 10.5], null,
  [39.1, 5.3], [40.2, 5.2], null,
  [40.8, 5.5], [41.3, 5.5], null,
  [41.9, 6.2], [43.0, 6.2], [44.0, 6.5], [45.0, 6.8], [46.0, 7.2], [46.8, 7.3], [47.2, 6.3], null,
  [49.0, 9], [50.0, 9.3], [51.0, 9.5], [52.0, 9.7], [53.0, 10], [54.0, 10.3], [55.0, 10.6], [56.0, 11], [57.0, 11.6], [57.8, 12.2],
];
const C_d2Out: P[] = [
  [6.0, 0], [7.0, 43], [7.05, 40], [8.95, 57.5], [13.75, 45.3], [14.5, 57.5], [14.55, 57], [14.6, 56.5], [14.7, 57], [14.75, 56], [14.5, 54], [14.6, 50], [14.5, 47], [14.7, 46], [14.55, 42], [14.6, 40],
  [14.7, 38], [14.8, 35], [14.65, 33], [13.0, 33.5], [13.1, 32], [16.0, 25], [18.0, 27.8], [26.2, 14], [29.1, 10.5], [39.05, 0.5], [37.0, 58.5], [37.0, 51], [37.0, 46.5], [37.0, 38], [37.0, 30],
  [37.0, 24], [37.0, 20], [50.4, 12.8], [52.2, 13.3], [53.15, 13.7], [53.8, 13.3], [54.4, 13], [57.9, 13.5], [0.05, 32], [0.1, 30],
];

// ---------------- panel D : alpha c,2p ----------------
const D_d1a: P[] = [
  [0.02, 20], [0.2, 22], [0.4, 25], [0.6, 28], [0.8, 32], [0.95, 33], null,
  [1.1, 16], [1.3, 15.5], [1.5, 15], [1.7, 15.5], [1.9, 16], [2.1, 15.5], [2.3, 15], [2.5, 15], [2.7, 14.5], [2.9, 14], [3.1, 14], [3.3, 15], [3.5, 16], [3.7, 17], [3.85, 18], [3.95, 16], null,
  [4.2, 16], [4.5, 15], [4.8, 13.5], [5.0, 12], [5.2, 10], [5.3, 9], null,
  [6.95, 12], [7.05, 25], [7.2, 30], [7.4, 28], [7.6, 26], [7.8, 24], [8.0, 22], [8.2, 19], [8.3, 18], [8.45, 25], [8.6, 36], [8.75, 48], [8.88, 57], null,
  [9.2, 40], [9.4, 34], [9.6, 30], [9.8, 26], [10.0, 24], [10.3, 20], [10.6, 16.5], [10.9, 14], null,
  [11.1, 15], [11.5, 14.5], [12.0, 15], [12.5, 13.5], [12.9, 14.5], [13.2, 14], [13.5, 11], [13.75, 8], null,
  [15.25, 23], [15.6, 20], [16.0, 16], [16.2, 13], null,
  [16.6, 9], [17.5, 9], [18.0, 10], [18.5, 7.5], [19.0, 4.5], [19.3, 3], null,
  [20.7, 4.5], [21.6, 4.4], [22.6, 4.5], null,
  [23.0, 4.4], [24.0, 4.3], [25.0, 4.4], null,
  [25.3, 4.4], [26.6, 4.5], null,
  [27.0, 4.2], [27.5, 4.4], null,
  [27.8, 4], [28.8, 4.2], [29.8, 4.5], [30.6, 4.9], [31.5, 5.3], [32.5, 5.5], null,
  [32.7, 5.2], [33.3, 5], [33.8, 4.3], null,
  [34.8, 7], [36.0, 6.7], [36.9, 6.5], null,
  [37.1, 8.5], [37.6, 8], [38.2, 7.5], [38.9, 7], null,
  [39.1, 4.5], [40.2, 4.5], null,
  [40.8, 4.4], [41.3, 4.4], null,
  [41.9, 5], [43.5, 5.2], [45.0, 5.5], [46.5, 5.8], [47.2, 5.2], null,
  [49.0, 7.2], [51.0, 7.5], [53.0, 7.9], [55.0, 8.4], [57.0, 9], [57.8, 9.3],
];
const D_d1aOut: P[] = [
  [6.05, 6], [6.95, 12], [7.0, 10], [14.4, 10], [14.5, 9], [14.6, 10.5], [13.0, 10], [37.0, 15], [37.0, 12], [0.05, 18],
];
const D_d1b: P[] = [
  [0.02, 20], [0.1, 22], [0.2, 25], [0.35, 28], [0.5, 31], [0.65, 36], [0.75, 40], [0.85, 37], [0.95, 35], null,
  [1.1, 22], [1.3, 21.5], [1.5, 22], [1.7, 21.5], [1.9, 22], [2.1, 21.5], [2.3, 21], [2.5, 21], [2.7, 20], [2.9, 18.5], [3.1, 17.5], [3.3, 18], [3.5, 19], [3.7, 20], [3.85, 20.5], [3.95, 19], null,
  [4.2, 20], [4.4, 20], [4.6, 19.5], [4.8, 18.5], [5.0, 17], [5.2, 15.5], [5.3, 15], null,
  [6.95, 10], [7.05, 15], [7.12, 35], [7.2, 40], [7.35, 34], [7.5, 31], [7.7, 28], [7.9, 26], [8.1, 23], [8.25, 21], [8.4, 27], [8.55, 37], [8.7, 50], [8.82, 60], null,
  [9.2, 56], [9.35, 47], [9.5, 42], [9.7, 38], [9.9, 32], [10.1, 27], [10.3, 23], [10.5, 20], [10.7, 17.5], [10.9, 15], null,
  [11.1, 17], [11.4, 17], [11.7, 18], [12.0, 19], [12.3, 18.5], [12.6, 18], [12.9, 19], [13.1, 19.5], [13.3, 19], [13.55, 17], [13.75, 15], null,
  [15.25, 23], [15.6, 20], [16.0, 16], [16.2, 13], null,
  [16.6, 6], [17.5, 6], [18.0, 7], [18.5, 5], [19.0, 3], [19.3, 2], null,
  [20.7, 3.5], [21.6, 3.4], [22.6, 3.5], null,
  [23.0, 3.4], [24.0, 3.3], [25.0, 3.4], null,
  [25.3, 3.4], [26.6, 3.5], null,
  [27.0, 3.3], [27.5, 3.5], null,
  [27.8, 3.2], [28.8, 3.3], [29.8, 3.6], [30.6, 4], [31.5, 4.4], [32.5, 4.6], null,
  [32.7, 4.2], [33.3, 4], [33.8, 3.4], null,
  [34.8, 4.4], [36.0, 4.2], [36.9, 4.1], null,
  [37.1, 5], [38.0, 4.9], [38.9, 4.9], null,
  [39.1, 3.6], [40.2, 3.6], null,
  [40.8, 3.5], [41.3, 3.5], null,
  [41.9, 4], [43.5, 4.1], [45.0, 4.4], [46.5, 4.8], [47.2, 4.2], null,
  [49.0, 5.5], [51.0, 6], [53.0, 6.3], [55.0, 6.5], [57.0, 7.3], [57.8, 7.8],
];
const D_d1bOut: P[] = [
  [6.05, 14], [6.1, 12], [6.15, 10], [6.9, 8], [8.9, 60], [9.25, 58], [14.5, 12], [14.6, 10], [14.7, 9], [13.0, 9], [16.9, 6], [0.02, 22],
];
const D_d1c: P[] = [
  [0.02, 20], [0.15, 21], [0.3, 22], [0.45, 21], [0.6, 23], [0.75, 25], [0.9, 27], [1.0, 30], null,
  [1.1, 15], [1.3, 14.5], [1.5, 14], [1.7, 15], [1.9, 15.5], [2.1, 15], [2.3, 16], [2.5, 15], [2.7, 14], [2.9, 13.5], [3.1, 13], [3.3, 15], [3.5, 16], [3.7, 17], [3.85, 18], [3.95, 15], null,
  [4.2, 16], [4.4, 15.5], [4.6, 15], [4.8, 14], [5.0, 13], [5.2, 11], [5.3, 10], null,
  [6.95, 15], [7.05, 20], [7.2, 22], [7.4, 22], [7.6, 22], [7.8, 21.5], [8.0, 20], [8.2, 18], [8.3, 16.5], [8.45, 21], [8.6, 28], [8.75, 35], [8.88, 40], null,
  [9.2, 31], [9.4, 28], [9.6, 25], [9.8, 22], [10.0, 20.5], [10.3, 17], [10.6, 14.5], [10.9, 12], null,
  [11.1, 15.5], [11.4, 14.5], [11.7, 15], [12.0, 15.5], [12.3, 14], [12.6, 13], [12.9, 14.5], [13.1, 15], [13.3, 14], [13.55, 13], [13.75, 10], null,
  [15.25, 25], [15.5, 23], [15.75, 21], [16.0, 19], [16.2, 14], null,
  [16.6, 11], [17.0, 10.5], [17.5, 11], [18.0, 12.8], [18.3, 11], [18.6, 9], [19.0, 5.5], [19.3, 3], null,
  [20.7, 5.1], [21.6, 5], [22.6, 5.1], null,
  [23.0, 5], [24.0, 4.9], [25.0, 5], null,
  [25.3, 5], [26.6, 5.1], null,
  [27.0, 5], [27.5, 5.1], null,
  [27.8, 5], [28.8, 5.2], [29.8, 5.6], [30.6, 6], [31.5, 6.3], [32.5, 6.5], null,
  [32.7, 6.2], [33.3, 6], [33.8, 5], null,
  [34.8, 8.4], [36.0, 8.1], [36.9, 7.8], null,
  [37.1, 10.2], [37.6, 9.6], [38.2, 9], [38.9, 8.5], null,
  [39.1, 5.5], [40.2, 5.4], null,
  [40.8, 5], [41.3, 5], null,
  [41.9, 5.9], [43.5, 6.1], [45.0, 6.4], [46.0, 6.9], [46.8, 6.8], [47.2, 6], null,
  [49.0, 8], [51.0, 8.3], [53.0, 8.5], [55.0, 9], [57.0, 10], [57.8, 10.4],
];
const D_d1cOut: P[] = [
  [0.0, 23], [0.02, 21], [0.95, 7], [3.1, 10], [6.05, 23], [6.1, 22], [6.05, 20], [6.1, 18], [6.15, 10], [7.0, 23], [7.2, 10], [8.0, 17], [8.15, 11], [14.5, 21], [14.55, 20], [14.6, 18], [14.5, 15],
  [14.6, 12], [14.3, 21], [16.9, 18.9], [16.9, 17], [16.9, 13.2], [18.1, 21.2], [18.1, 15.1], [20.5, 11.1], [20.5, 9.7], [20.5, 6.5], [23.0, 8.6], [23.0, 6.5], [25.3, 10.2], [25.3, 7.2], [27.0, 10.8],
  [27.0, 7.8], [27.0, 6.4], [27.8, 10.5], [27.8, 8.5], [27.8, 6.5], [29.1, 10.8], [29.1, 8], [33.3, 12.9], [33.3, 9.7], [34.9, 13.3], [34.9, 9.1], [37.0, 56.3], [37.0, 55], [37.0, 53], [37.0, 46],
  [37.0, 44], [37.0, 42], [37.0, 18], [37.05, 15], [39.0, 10.5], [39.0, 7.1], [40.8, 12.1], [40.8, 9.5], [40.8, 7.5], [41.9, 12.3], [41.9, 9.5], [49.0, 15.7], [49.0, 12.9], [49.0, 10], [50.1, 9.5],
  [52.2, 10.3], [53.2, 10.3], [54.4, 17], [54.4, 12.8], [55.7, 11], [56.45, 10.8],
];
const D_d2: P[] = [
  [0.02, 5], [0.1, 12], [0.2, 18], [0.35, 21], [0.5, 24], [0.65, 26], [0.8, 30], [0.9, 32], [1.0, 27], null,
  [1.1, 26], [1.25, 29], [1.4, 33], [1.55, 38], [1.7, 44], [1.85, 51], [1.95, 57], [2.02, 61], [2.08, 60], [2.15, 55], [2.25, 48], [2.35, 43], [2.5, 37], [2.65, 32], [2.8, 28], [3.0, 24], [3.15, 21], [3.3, 19.5], [3.5, 19], [3.7, 20.5], [3.85, 22.5], [3.95, 19], null,
  [4.2, 21], [4.4, 22.5], [4.6, 24.5], [4.8, 27], [5.0, 30], [5.15, 33], [5.3, 35.5], null,
  [6.95, 61], [7.05, 55], [7.15, 47], [7.3, 40], [7.5, 34], [7.7, 30], [7.9, 27], [8.1, 24], [8.25, 21], [8.4, 28], [8.55, 38], [8.7, 52], [8.8, 61], null,
  [9.5, 61], [9.6, 52], [9.75, 44], [9.9, 38], [10.1, 32], [10.3, 27.5], [10.5, 23], [10.7, 19.5], [10.9, 16], null,
  [11.1, 19.5], [11.4, 22], [11.7, 24.5], [12.0, 27], [12.3, 30], [12.6, 33.5], [12.85, 37.5], [13.0, 41], [13.12, 44.5], [13.25, 40], [13.4, 35], [13.55, 31], [13.75, 27], null,
  [15.25, 31], [15.5, 28], [15.75, 24.5], [16.0, 20], [16.2, 16], null,
  [16.6, 7], [17.5, 7], [18.0, 8.5], [18.5, 6], [19.0, 3.5], [19.3, 2], null,
  [20.7, 4], [21.6, 3.9], [22.6, 4], null,
  [23.0, 4], [24.0, 3.9], [25.0, 4], null,
  [25.3, 4], [26.6, 4.1], null,
  [27.0, 3.5], [27.5, 3.7], null,
  [27.8, 3.5], [28.8, 3.6], [29.8, 3.9], [30.6, 4.3], [31.5, 4.8], [32.5, 5], null,
  [32.7, 4.7], [33.3, 4.5], [33.8, 3.8], null,
  [34.8, 6.2], [36.0, 5.8], [36.9, 5.5], null,
  [37.1, 9], [37.6, 8], [38.2, 7.2], [38.9, 6.5], null,
  [39.1, 4], [40.2, 4], null,
  [40.8, 3.8], [41.3, 3.8], null,
  [41.9, 4.4], [43.5, 4.6], [45.0, 5], [46.5, 5.5], [47.2, 4.8], null,
  [49.0, 7], [51.0, 7.3], [53.0, 7.7], [55.0, 8.3], [57.0, 9.5], [57.8, 10],
];
const D_d2Out: P[] = [
  [6.0, 0], [6.95, 0], [14.2, 59], [14.5, 54], [14.55, 53], [14.6, 52], [14.65, 50], [14.5, 48], [14.55, 45], [14.6, 42], [14.65, 40], [14.5, 38], [14.6, 35], [14.7, 30], [14.55, 25], [13.0, 50],
  [13.05, 48], [13.8, 49], [16.0, 29], [16.05, 27], [18.05, 18.9], [26.3, 7.9], [27.2, 0], [39.1, 0.2], [37.0, 50], [37.0, 35], [37.0, 34], [37.0, 25], [0.02, 4],
];

// ---------------- tables built from the arrays ----------------
const panelLines: P[][][] = [
  [expLine, A_d1a, A_d1b, A_d1c, A_d2],
  [expLine, B_d1a, B_d1b, B_d1c, B_d2],
  [expLine, C_d1a, C_d1b, C_d1c, C_d2],
  [expLine, D_d1a, D_d1b, D_d1c, D_d2],
];
const panelOuts: P[][][] = [
  [expOut, A_d1aOut, A_d1bOut, A_d1cOut, A_d2Out],
  [expOut, B_d1aOut, B_d1bOut, B_d1cOut, B_d2Out],
  [expOut, C_d1aOut, C_d1bOut, C_d1cOut, C_d2Out],
  [expOut, D_d1aOut, D_d1bOut, D_d1cOut, D_d2Out],
];

// ---------------- styling ----------------
const TEAL = "#17a08b";
const RED = "#c9302c";
const BLUE = "#1d4f9f";
const YELLOW = "#f1b83a";
const seriesStyles = [
  { color: "#000000", wide: 6, narrow: 5, style: "circle", radius: 1.8, hollow: false, rot: 0 },
  { color: TEAL, wide: 7, narrow: 5, style: "circle", radius: 2.6, hollow: true, rot: 0 },
  { color: RED, wide: 5, narrow: 4, style: "circle", radius: 1.8, hollow: false, rot: 0 },
  { color: BLUE, wide: 9, narrow: 6, style: "triangle", radius: 3.6, hollow: false, rot: -90 },
  { color: YELLOW, wide: 6, narrow: 5, style: "circle", radius: 2.1, hollow: false, rot: 0 },
];
const FONT = "'Open Sans', 'Noto Sans', sans-serif";
const TXT = "#262626";
const PLOT_TOPS = [48, 408, 767, 1126];
const PLOT_H = 274;
const PAD_TOP = 12;
const X_AXIS_H = 45;
const CANVAS_H = PAD_TOP + PLOT_H + X_AXIS_H;

const toXY = (pts: P[]) => {
  let lastX = 0;
  return pts.map((p) => {
    if (p) {
      lastX = p[0];
      return { x: p[0], y: p[1] };
    }
    return { x: lastX, y: null as any };
  });
};

const bandPlugin = {
  id: "bands",
  afterDatasetsDraw(chart: any) {
    const { ctx, chartArea: a, scales } = chart;
    ctx.save();
    ctx.fillStyle = "rgba(196,196,196,0.5)";
    bandDays.forEach((d) => {
      const x0 = scales.x.getPixelForValue(d - 0.155);
      const x1 = scales.x.getPixelForValue(d + 0.155);
      ctx.fillRect(x0, a.top, x1 - x0, a.bottom - a.top);
    });
    ctx.restore();
  },
};

const boxPlugin = {
  id: "boxTicks",
  afterDraw(chart: any) {
    const { ctx, chartArea: a, scales } = chart;
    ctx.save();
    ctx.strokeStyle = "#5e5e5e";
    ctx.lineWidth = 1;
    ctx.strokeRect(Math.round(a.left) + 0.5, Math.round(a.top) + 0.5, Math.round(a.right - a.left) - 1, Math.round(a.bottom - a.top) - 1);
    ctx.beginPath();
    xTickLabels.forEach((v) => {
      const px = Math.round(scales.x.getPixelForValue(v)) + 0.5;
      ctx.moveTo(px, a.bottom);
      ctx.lineTo(px, a.bottom - 11);
      ctx.moveTo(px, a.top);
      ctx.lineTo(px, a.top + 11);
    });
    yTickLabels.forEach((v) => {
      const py = Math.round(scales.y.getPixelForValue(v)) + 0.5;
      ctx.moveTo(a.left, py);
      ctx.lineTo(a.left + 11, py);
      ctx.moveTo(a.right, py);
      ctx.lineTo(a.right - 11, py);
    });
    ctx.stroke();
    ctx.restore();
  },
};

function PanelChart({ idx }: { idx: number }) {
  const ref = useRef<HTMLCanvasElement>(null);
  useEffect(() => {
    if (!ref.current) return;
    const datasets: any[] = [];
    panelLines[idx].forEach((pts, i) => {
      const st = seriesStyles[i];
      datasets.push({
        label: seriesNames[i],
        data: toXY(pts),
        showLine: true,
        borderColor: st.color,
        backgroundColor: st.color,
        borderWidth: st.wide,
        borderCapStyle: "round",
        borderJoinStyle: "round",
        pointRadius: 0,
        spanGaps: false,
        clip: 0,
        order: 20 - i,
        segment: {
          borderWidth: (c: any) => (c.p0.parsed.x < 16.5 ? st.wide : st.narrow),
        },
      });
    });
    panelOuts[idx].forEach((pts, i) => {
      const st = seriesStyles[i];
      datasets.push({
        label: seriesNames[i] + " pts",
        data: toXY(pts),
        showLine: false,
        pointStyle: st.style,
        pointRotation: st.rot,
        pointRadius: st.radius,
        pointBackgroundColor: st.hollow ? "rgba(255,255,255,0)" : st.color,
        pointBorderColor: st.color,
        pointBorderWidth: st.hollow ? 1.2 : 0.5,
        order: 10 - i,
      });
    });
    const chart = new Chart(ref.current, {
      type: "scatter",
      data: { datasets },
      options: {
        responsive: false,
        animation: false,
        devicePixelRatio: 1,
        events: [],
        layout: { padding: { left: 0, right: 4, top: PAD_TOP, bottom: 0 } },
        plugins: { legend: { display: false }, tooltip: { enabled: false } },
        scales: {
          x: {
            type: "linear",
            min: 0,
            max: 57.8,
            grid: { display: false, drawTicks: false },
            border: { display: false },
            ticks: { font: { family: FONT, size: 20 }, color: TXT, padding: 14, maxRotation: 0, autoSkip: false },
            afterBuildTicks: (s: any) => {
              s.ticks = xTickLabels.map((v) => ({ value: v }));
            },
            afterFit: (s: any) => {
              s.height = X_AXIS_H;
              s.paddingLeft = 0;
              s.paddingRight = 0;
            },
          },
          y: {
            type: "linear",
            min: 0,
            max: 60,
            grid: { display: false, drawTicks: false },
            border: { display: false },
            ticks: { font: { family: FONT, size: 20 }, color: TXT, padding: 7 },
            afterBuildTicks: (s: any) => {
              s.ticks = yTickLabels.map((v) => ({ value: v }));
            },
            afterFit: (s: any) => {
              s.width = 83;
              s.paddingTop = 0;
              s.paddingBottom = 0;
            },
          },
        },
      } as any,
      plugins: [bandPlugin, boxPlugin],
    });
    return () => chart.destroy();
  }, [idx]);
  return (
    <canvas
      ref={ref}
      width={1217}
      height={CANVAS_H}
      style={{ position: "absolute", left: 0, top: PLOT_TOPS[idx] - PAD_TOP, width: 1217, height: CANVAS_H }}
    />
  );
}

function PanelText({ idx }: { idx: number }) {
  const top = PLOT_TOPS[idx];
  return (
    <>
      <div style={{ position: "absolute", left: 10, top: top - 38, fontFamily: FONT, fontSize: 20, lineHeight: "24px", color: "#000" }}>
        {panelLetters[idx]}
      </div>
      <div
        style={{
          position: "absolute",
          left: 83,
          width: 1130,
          top: top - 37,
          height: 38,
          display: "flex",
          justifyContent: "center",
          alignItems: "flex-start",
          color: TXT,
        }}
      >
        <span style={{ fontFamily: "'Liberation Serif', serif", fontStyle: "italic", fontSize: 27, lineHeight: "26px", marginTop: 0 }}>α</span>
        <span style={{ fontFamily: FONT, fontSize: 16, lineHeight: "16px", marginTop: 18, marginLeft: 2 }}>
          {panelSubs[idx]}
          {panelSubItalic[idx] ? <i>{panelSubItalic[idx]}</i> : null}
        </span>
      </div>
      <div
        style={{
          position: "absolute",
          left: 32,
          top: top + PLOT_H / 2,
          transform: "translate(-50%, -50%) rotate(-90deg)",
          whiteSpace: "nowrap",
          fontFamily: FONT,
          fontSize: 22,
          lineHeight: "26px",
          color: TXT,
        }}
      >
        <i>FR</i> (mbar min<sup style={{ fontSize: 14, verticalAlign: "8px" }}>-1</sup>)
      </div>
    </>
  );
}

function LegendMarker({ i }: { i: number }) {
  const c = seriesStyles[i].color;
  return (
    <svg width={12} height={12} viewBox="-6 -6 12 12" style={{ display: "block" }}>
      {i === 0 && <circle r={1.4} fill={c} />}
      {i === 1 && <circle r={2.5} fill="none" stroke={c} strokeWidth={1.3} />}
      {i === 2 && (
        <g stroke={c} strokeWidth={1.3}>
          <line x1={-2.5} y1={0} x2={2.5} y2={0} />
          <line x1={0} y1={-2.5} x2={0} y2={2.5} />
        </g>
      )}
      {i === 3 && <polygon points="-3,0 2,-3.2 2,3.2" fill={c} />}
      {i === 4 && <circle r={2.3} fill={c} />}
    </svg>
  );
}

const legendMarkerX = [320, 475, 630, 785, 940];
const legendTextX = [372, 522, 679, 827, 980];

export default function App() {
  return (
    <div style={{ position: "absolute", left: 0, top: 0, width: 1217, height: 1534, overflow: "hidden", background: "#fff" }}>
      {[0, 1, 2, 3].map((i) => (
        <PanelChart key={"c" + i} idx={i} />
      ))}
      {[0, 1, 2, 3].map((i) => (
        <PanelText key={"t" + i} idx={i} />
      ))}
      <div
        style={{
          position: "absolute",
          left: 83,
          width: 1130,
          top: 1448,
          textAlign: "center",
          fontFamily: FONT,
          fontSize: 21,
          lineHeight: "24px",
          color: TXT,
        }}
      >
        Operational time (d)
      </div>
      <div
        style={{
          position: "absolute",
          left: 267,
          top: 1493,
          width: 760,
          height: 60,
          border: "1px solid #cfcfcf",
          boxSizing: "border-box",
          background: "#fff",
        }}
      />
      {seriesNames.map((n, i) => (
        <React.Fragment key={n}>
          <div style={{ position: "absolute", left: legendMarkerX[i] - 6, top: 1511 }}>
            <LegendMarker i={i} />
          </div>
          <div style={{ position: "absolute", left: legendTextX[i], top: 1505, fontFamily: FONT, fontSize: 21, lineHeight: "24px", color: TXT }}>
            {n}
          </div>
        </React.Fragment>
      ))}
    </div>
  );
}
